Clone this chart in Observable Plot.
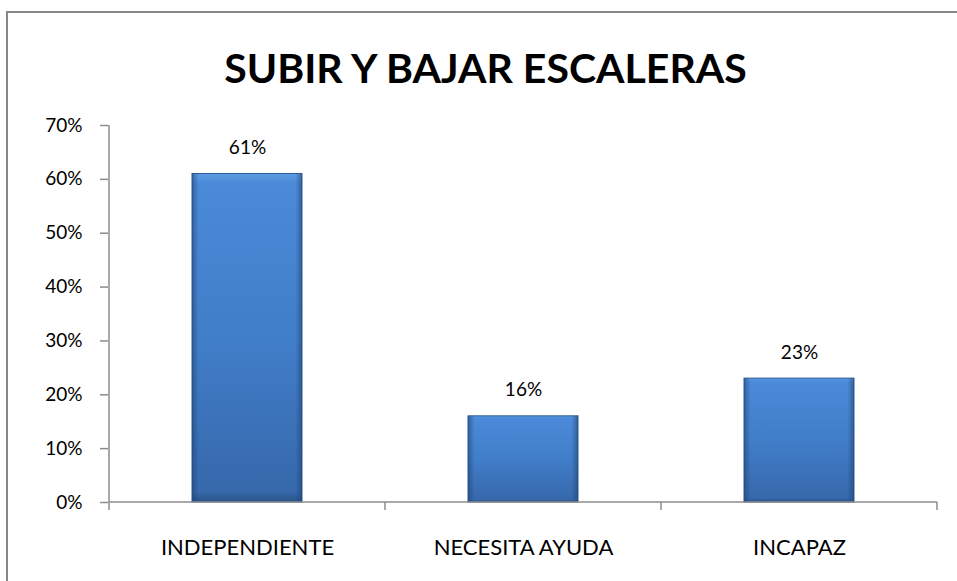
<!DOCTYPE html>
<html>
<head>
<meta charset="utf-8">
<script src="https://cdn.jsdelivr.net/npm/d3@7"></script>
<script src="https://cdn.jsdelivr.net/npm/@observablehq/plot@0.6"></script>
<style>
  html, body { margin: 0; padding: 0; background: #fff; width: 957px; height: 581px; overflow: hidden; position: relative; font-family: Lato, "Open Sans", sans-serif; }
  #frame { position: absolute; left: 6px; top: 11px; width: 1000px; height: 620px; border: 2px solid #878787; box-sizing: border-box; }
  #title { position: absolute; left: 7px; top: 43px; width: 957px; text-align: center; font-weight: 700; font-size: 41px; line-height: 50px; color: #000; }
  #chart { position: absolute; left: 0; top: 100px; }
</style>
</head>
<body>
<div id="frame"></div>
<div id="title">SUBIR Y BAJAR ESCALERAS</div>
<div id="chart"></div>
<script>
const categories = ["INDEPENDIENTE", "NECESITA AYUDA", "INCAPAZ"];
const values = [61, 16, 23];
const yTicks = [0, 10, 20, 30, 40, 50, 60, 70];

const data = categories.map((c, i) => ({ cat: c, value: values[i] }));

function axisLines(index, scales, values, dimensions) {
  const x = scales.x, y = scales.y;
  const step = x(categories[1]) - x(categories[0]);
  const bw = x.bandwidth ? x.bandwidth() : 0;
  const xs = categories.map(c => x(c) + bw / 2 - step / 2);
  xs.push(x(categories[categories.length - 1]) + bw / 2 + step / 2);
  const g = d3.create("svg:g").attr("stroke", "#8c8c8c").attr("stroke-width", 1.5);
  const y0 = y(0);
  g.append("line").attr("x1", xs[0]).attr("x2", xs[0]).attr("y1", y(yTicks[yTicks.length - 1])).attr("y2", y0);
  g.append("line").attr("x1", xs[0]).attr("x2", xs[xs.length - 1]).attr("y1", y0).attr("y2", y0);
  g.selectAll("line.t").data(xs).join("line").attr("class", "t")
    .attr("x1", d => d).attr("x2", d => d)
    .attr("y1", y0).attr("y2", y0 + 8);
  return g.node();
}

const plot = Plot.plot({
  width: 957,
  height: 470,
  marginLeft: 108,
  marginRight: 19,
  marginTop: 25,
  marginBottom: 68,
  style: { fontFamily: "Lato, 'Open Sans', sans-serif", fontSize: "18px", color: "#000", background: "transparent", overflow: "visible" },
  x: { domain: categories, paddingInner: 0.6, paddingOuter: 0.3, label: null, axis: null },
  y: { domain: [0, 70], label: null, axis: null },
  marks: [
    Plot.barY(data, { x: "cat", y: "value", fill: "url(#barGrad)", stroke: "#2c5a93", strokeWidth: 1 }),
    Plot.barY(data, { x: "cat", y: "value", fill: "url(#sideGrad)" }),
    Plot.axisY(yTicks, { tickSize: 8, tickPadding: 18, tickFormat: d => d + "%", stroke: "#8c8c8c", strokeWidth: 1.5, fontSize: 19, fill: "#000" }),
    Plot.axisX({ tickSize: 0, tickPadding: 37, fontSize: 22, fill: "#000" }),
    axisLines,
    Plot.text(data, { x: "cat", y: "value", text: d => d.value + "%", dy: -26, fontSize: 19, fill: "#000" })
  ]
});

const defs = d3.select(plot).insert("defs", ":first-child");
const grad = defs.append("linearGradient").attr("id", "barGrad").attr("x1", 0).attr("y1", 0).attr("x2", 0).attr("y2", 1);
grad.append("stop").attr("offset", "0%").attr("stop-color", "#5d9be3");
grad.append("stop").attr("offset", "3%").attr("stop-color", "#4b8ad8");
grad.append("stop").attr("offset", "50%").attr("stop-color", "#417ec9");
grad.append("stop").attr("offset", "97%").attr("stop-color", "#3668ab");
grad.append("stop").attr("offset", "100%").attr("stop-color", "#2a5288");
const side = defs.append("linearGradient").attr("id", "sideGrad").attr("x1", 0).attr("y1", 0).attr("x2", 1).attr("y2", 0);
side.append("stop").attr("offset", "0%").attr("stop-color", "#1e3f6e").attr("stop-opacity", 0.55);
side.append("stop").attr("offset", "6%").attr("stop-color", "#1e3f6e").attr("stop-opacity", 0);
side.append("stop").attr("offset", "94%").attr("stop-color", "#1e3f6e").attr("stop-opacity", 0);
side.append("stop").attr("offset", "100%").attr("stop-color", "#1e3f6e").attr("stop-opacity", 0.55);

document.getElementById("chart").appendChild(plot);
</script>
</body>
</html>
